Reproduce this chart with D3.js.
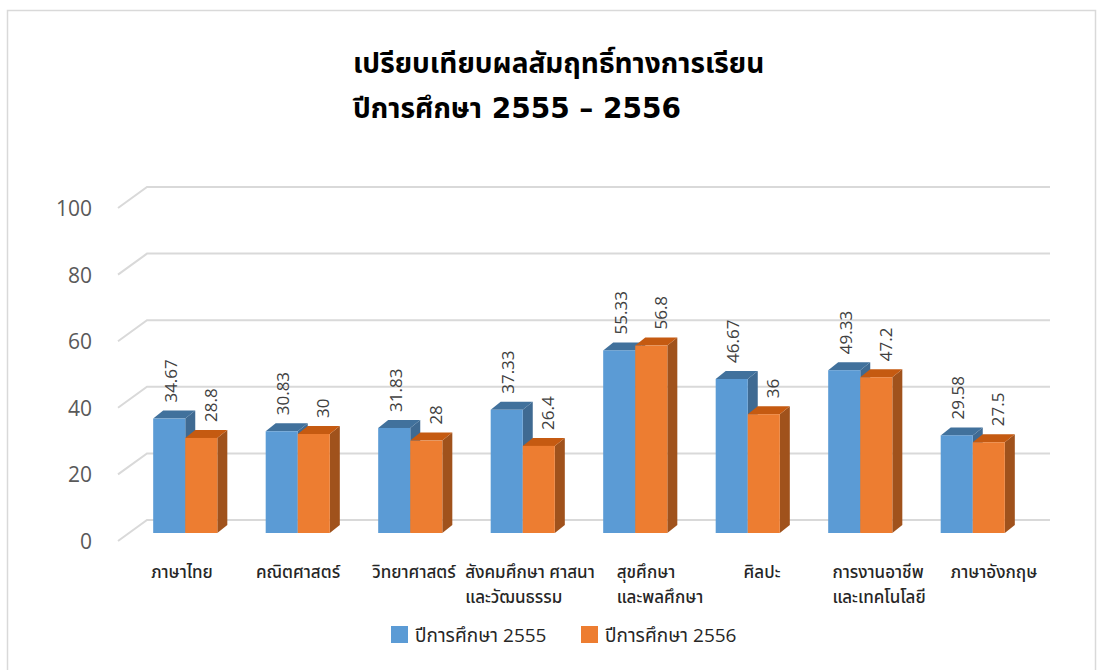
<!DOCTYPE html>
<html>
<head>
<meta charset="utf-8">
<script src="https://cdn.jsdelivr.net/npm/d3@7"></script>
<style>
  html, body { margin: 0; padding: 0; background: #fff; }
  svg { display: block; }
  .thai { font-family: "Open Sans", "Noto Sans Thai", "Leelawadee UI", Tahoma, "Noto Sans", sans-serif; }
  .ttl { font-family: "DejaVu Sans", "Noto Sans Thai", "Leelawadee UI", Tahoma, sans-serif; }
  .num { font-family: "Open Sans", "Noto Sans", sans-serif; }
</style>
</head>
<body>
<svg id="chart" width="1102" height="670"></svg>
<script>
// ---- data ----
const titleLines = ["เปรียบเทียบผลสัมฤทธิ์ทางการเรียน", "ปีการศึกษา 2555 – 2556"];
const categories = [
  "ภาษาไทย",
  "คณิตศาสตร์",
  "วิทยาศาสตร์",
  "สังคมศึกษา ศาสนา\nและวัฒนธรรม",
  "สุขศึกษา\nและพลศึกษา",
  "ศิลปะ",
  "การงานอาชีพ\nและเทคโนโลยี",
  "ภาษาอังกฤษ"
];
const seriesNames = ["ปีการศึกษา 2555", "ปีการศึกษา 2556"];
const values2555 = [34.67, 30.83, 31.83, 37.33, 55.33, 46.67, 49.33, 29.58];
const values2556 = [28.8, 30, 28, 26.4, 56.8, 36, 47.2, 27.5];
const yTicks = [0, 20, 40, 60, 80, 100];

// ---- styles ----
const colors = [
  { front: "#5b9bd5", top: "#41719c", side: "#3f6a92" },
  { front: "#ed7d31", top: "#c55a11", side: "#a0521c" }
];

const svg = d3.select("#chart");

// outer border
svg.append("rect")
  .attr("x", 7.5).attr("y", 10.5).attr("width", 1088).attr("height", 670)
  .attr("fill", "#fff").attr("stroke", "#d9d9d9").attr("stroke-width", 1.5);

// title (left-aligned block)
const title = svg.append("text").attr("class", "ttl")
  .attr("font-weight", "bold").attr("fill", "#000");
titleLines.forEach((t, i) => {
  title.append("tspan").attr("x", 353).attr("y", 73 + i * 45)
    .attr("font-size", 28).text(t);
});

// geometry
const depthX = 29, depthY = 21;      // wall depth (front-left -> back)
const barDX = 10, barDY = 8;          // bar depth
const yBack = d3.scaleLinear().domain([0, 100]).range([520, 187]);
const yBar = d3.scaleLinear().domain([0, 100]).range([533, 203]);
const x = d3.scaleBand().domain(categories).range([129, 1029])
  .paddingInner(0.43).paddingOuter(0.215);
const xs = d3.scaleBand().domain([0, 1]).range([0, x.bandwidth()]);
const xLabel = d3.scaleBand().domain(categories).range([124, 1052]);
const backLeft = 147, backRight = 1050;

// gridlines
const grid = svg.append("g");
yTicks.forEach(t => {
  grid.append("path")
    .attr("d", `M${backLeft - depthX},${yBack(t) + depthY}L${backLeft},${yBack(t)}L${backRight},${yBack(t)}`)
    .attr("fill", "none").attr("stroke", "#d9d9d9").attr("stroke-width", 2);
});

// y axis labels
svg.append("g").selectAll("text").data(yTicks).join("text")
  .attr("class", "num")
  .attr("x", 92).attr("y", d => yBack(d) + depthY)
  .attr("text-anchor", "end").attr("dominant-baseline", "central")
  .attr("font-size", 21).attr("fill", "#595959")
  .text(d => d);

// bars
const series = [values2555, values2556];
const bars = svg.append("g");
categories.forEach((c, i) => {
  series.forEach((vals, s) => {
    const v = vals[i];
    const x0 = x(c) + xs(s), w = xs.bandwidth();
    const y0 = yBar(0), y1 = yBar(v);
    const g = bars.append("g");
    g.append("path")
      .attr("d", `M${x0 + w},${y1}L${x0 + w + barDX},${y1 - barDY}L${x0 + w + barDX},${y0 - barDY}L${x0 + w},${y0}Z`)
      .attr("fill", colors[s].side);
    g.append("path")
      .attr("d", `M${x0},${y1}L${x0 + barDX},${y1 - barDY}L${x0 + w + barDX},${y1 - barDY}L${x0 + w},${y1}Z`)
      .attr("fill", colors[s].top);
    g.append("rect")
      .attr("x", x0).attr("y", y1).attr("width", w).attr("height", y0 - y1)
      .attr("fill", colors[s].front);
  });
});

// value labels (rotated)
const labelShift = [1, 9];
categories.forEach((c, i) => {
  series.forEach((vals, s) => {
    const v = vals[i];
    const cx = x(c) + xs(s) + xs.bandwidth() / 2 + labelShift[s];
    const cy = yBar(v) - 16;
    svg.append("text").attr("class", "num")
      .attr("transform", `translate(${cx},${cy}) rotate(-90)`)
      .attr("text-anchor", "start").attr("dominant-baseline", "central")
      .attr("font-size", 17).attr("fill", "#404040")
      .text(v);
  });
});

// category labels
const catG = svg.append("g");
categories.forEach(c => {
  const lines = c.split("\n");
  const cx = xLabel(c) + xLabel.bandwidth() / 2;
  const t = catG.append("text").attr("class", "thai")
    .attr("font-size", 17).attr("font-weight", 500).attr("fill", "#262626");
  const first = t.append("tspan").attr("y", 578).text(lines[0]);
  const wFirst = first.node().getComputedTextLength();
  const startX = cx - wFirst / 2;
  first.attr("x", startX);
  lines.slice(1).forEach((ln, k) => {
    t.append("tspan").attr("x", startX).attr("y", 578 + 25 * (k + 1)).text(ln);
  });
});

// legend
const legendX = [391, 581];
seriesNames.forEach((n, s) => {
  svg.append("rect").attr("x", legendX[s]).attr("y", 626).attr("width", 17).attr("height", 17)
    .attr("fill", colors[s].front);
  svg.append("text").attr("class", "thai")
    .attr("x", legendX[s] + 24).attr("y", 635).attr("dominant-baseline", "central")
    .attr("font-size", 19).attr("fill", "#262626").text(n);
});
</script>
</body>
</html>
